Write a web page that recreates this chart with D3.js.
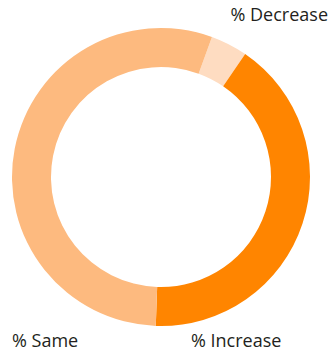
<!DOCTYPE html>
<html>
<head>
<meta charset="utf-8">
<script src="https://cdn.jsdelivr.net/npm/d3@7/dist/d3.min.js"></script>
<style>
  html, body { margin: 0; padding: 0; background: #fff; }
  svg { display: block; }
  text { font-family: "Open Sans", sans-serif; fill: #231f20; }
</style>
</head>
<body>
<svg id="chart" width="332" height="353"></svg>
<script>
// Share of responses in each category (percent)
const categories = ["% Decrease", "% Increase", "% Same"];
const values = [4, 41, 55];
const colors = ["#fedcc1", "#ff8500", "#fdba7f"];

const width = 332, height = 353;
const cx = 161, cy = 177;
const outerR = 149, innerR = 110;

const svg = d3.select("#chart");
const g = svg.append("g").attr("transform", `translate(${cx},${cy})`);

const startA = 20 * Math.PI / 180;
const pie = d3.pie()
  .sort(null)
  .value(d => d.value)
  .startAngle(startA)
  .endAngle(startA + 2 * Math.PI);

const data = categories.map((c, i) => ({ name: c, value: values[i], color: colors[i] }));
const arc = d3.arc().innerRadius(innerR).outerRadius(outerR);

g.selectAll("path.slice")
  .data(pie(data))
  .join("path")
  .attr("class", "slice")
  .attr("d", arc)
  .attr("fill", d => d.data.color);

// Category labels around the ring
const labelPos = {
  "% Decrease": { x: 328, y: 21, anchor: "end" },
  "% Increase": { x: 191, y: 347, anchor: "start" },
  "% Same": { x: 12, y: 347, anchor: "start" }
};

svg.selectAll("text.label")
  .data(data)
  .join("text")
  .attr("class", "label")
  .attr("x", d => labelPos[d.name].x)
  .attr("y", d => labelPos[d.name].y)
  .attr("text-anchor", d => labelPos[d.name].anchor)
  .attr("font-size", 18)
  .text(d => d.name);
</script>
</body>
</html>
